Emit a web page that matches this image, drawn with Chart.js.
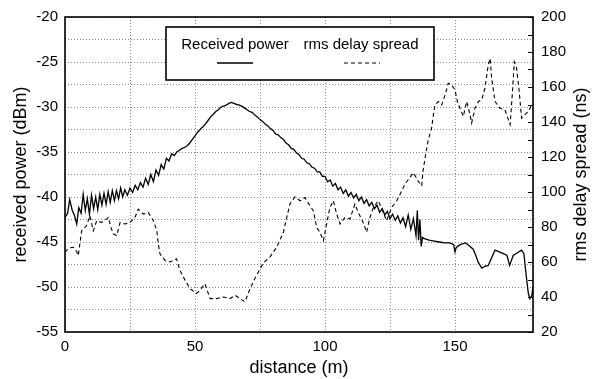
<!DOCTYPE html>
<html>
<head>
<meta charset="utf-8">
<script src="https://cdn.jsdelivr.net/npm/chart.js@4"></script>
<style>
  html, body { margin: 0; padding: 0; background: #fff; }
  #wrap { width: 592px; height: 379px; }
</style>
</head>
<body>
<div id="wrap"><canvas id="chart" width="592" height="379"></canvas></div>
<script>
// received power (dBm) vs distance (m)
const powerDist = [0, 1, 1.8, 2.8, 3.6, 4.5, 5.3, 6.2, 7, 7.8, 8.6, 9.4, 10.2, 11, 11.8, 12.6, 13.4, 14.2, 15, 15.8,
  16.6, 17.4, 18.2, 19, 19.8, 20.6, 21.4, 22.2, 23, 24, 25, 26, 27, 28, 29, 30, 31, 32, 33, 34, 35, 36, 37, 38, 39,
  40, 41, 42, 43, 44, 45, 46, 47, 48, 49, 50, 51, 52, 53, 54, 55, 56, 57, 58, 59, 60, 61, 62, 63, 64, 65, 66, 67, 68,
  69, 70, 71, 72, 73, 74, 75, 76, 77, 78, 79, 80, 81, 82, 83, 84, 85, 86, 87, 88, 89, 90, 91, 92, 93, 94, 95, 96, 97,
  98, 99, 100, 101, 102, 103, 104, 105, 106, 107, 108, 109, 110, 111, 112, 113, 114, 115, 116, 117, 118, 119, 120,
  121, 122, 123, 124, 125, 126, 127, 128, 129, 130, 131, 132, 133, 134, 135, 135.5, 136, 136.5, 137, 137.5, 138, 140,
  142, 144, 146, 148, 149.5, 150, 150.5, 152, 154, 155, 157, 158, 159, 160.3, 161.5, 162.8, 164, 165.4, 167, 168.6,
  170, 171, 172.4, 174, 175.6, 176.5, 177.3, 178.2, 178.8, 179.5, 180];
const powerDbm = [-42.3, -41.8, -40.3, -41.5, -42.0, -43.0, -41.2, -41.8, -39.7, -41.5, -40.2, -41.9, -39.8, -41.3,
  -40.0, -41.4, -39.7, -40.9, -39.6, -40.8, -39.4, -40.6, -39.3, -40.4, -39.3, -40.2, -39.0, -40.0, -39.2, -39.8,
  -39.0, -39.5, -38.7, -39.2, -38.4, -38.9, -37.9, -38.6, -37.5, -38.3, -37.0, -37.6, -36.4, -36.9, -35.7, -36.0,
  -35.2, -35.4, -35.0, -34.8, -34.6, -34.5, -34.3, -34.0, -33.6, -33.2, -32.8, -32.5, -32.2, -31.9, -31.5, -31.1,
  -30.8, -30.5, -30.3, -30.0, -29.9, -29.8, -29.6, -29.5, -29.6, -29.7, -29.8, -29.9, -30.1, -30.3, -30.5, -30.6,
  -30.9, -31.1, -31.4, -31.6, -31.9, -32.1, -32.4, -32.6, -33.0, -33.1, -33.4, -33.6, -34.0, -34.2, -34.6, -34.7,
  -35.1, -35.3, -35.7, -35.8, -36.2, -36.3, -36.7, -36.8, -37.2, -37.2, -37.7, -37.7, -38.3, -38.1, -38.8, -38.5,
  -39.2, -38.9, -39.6, -39.2, -39.9, -39.5, -40.1, -39.7, -40.4, -40.0, -40.7, -40.3, -41.0, -40.6, -41.3, -40.9,
  -41.7, -41.3, -42.0, -41.6, -42.4, -41.9, -42.6, -42.1, -42.9, -42.3, -43.3, -42.0, -43.6, -42.4,
  -44.3, -41.5, -44.8, -42.5, -45.5, -44.5, -44.6, -44.8, -44.9, -45.0, -45.1, -45.1, -45.3, -46.1, -45.6, -45.3,
  -45.1, -45.3, -45.8, -46.5, -47.3, -47.9, -47.7, -47.6, -46.8, -45.9, -46.1, -46.3, -46.5, -47.6, -46.5, -46.2,
  -45.9, -46.3, -48.5, -50.7, -51.3, -51.0, -50.0];

// rms delay spread (ns) vs distance (m)
const delayDist = [0, 1.5, 3.2, 4.5, 5.1, 6.4, 8.3, 9.6, 10.9, 12.2, 14.1, 15.5, 16.7, 17.6, 18.6, 19.9, 21.2, 23.1,
  25, 26.9, 28.2, 30.1, 32, 34, 35.3, 35.9, 36.5, 38.5, 40.4, 42.9, 44.2, 46.2, 48.1, 50.6, 51.9, 53.8, 55.8, 58.3,
  60.9, 63.5, 65.4, 67.3, 69.2, 71.2, 73, 76.3, 78.8, 81.4, 84, 85.3, 86.5, 88.5, 90.4, 92.3, 94.2, 95.5, 96.8, 98,
  99.4, 100.6, 101.9, 103.2, 104.5, 105.8, 107.7, 109.6, 111.5, 112.8, 114.7, 116, 117.3, 118.6, 120.5, 122.4, 123.7,
  125.6, 127.6, 129.5, 130.8, 132.5, 134, 135.8, 137.2, 137.7, 138.5, 139.6, 141, 141.7, 142.3, 143.6, 144.9, 146.2,
  147.4, 148.7, 150, 150.9, 151.9, 153.2, 154.5, 155.8, 156.4, 157.7, 159, 160.3, 161.5, 162.8, 163.5, 164.1, 165.4,
  167.3, 169.2, 171.2, 172.2, 172.8, 173.7, 174.7, 175.6, 176.9, 178.2, 179.5];
const delayNs = [65.6, 68, 68.4, 66, 63.7, 77.9, 80.7, 86.4, 77.9, 83.6, 82.6, 84, 85.5, 80, 76, 75.1, 82.6, 81.7,
  82.6, 85.5, 90.2, 87.4, 88.3, 83.6, 77.9, 70.3, 64.7, 60.9, 60, 61.8, 55.2, 49.5, 44.8, 42, 43.8, 47.6, 39.1, 39.1,
  40, 39.1, 41, 39.1, 37.2, 44.8, 50.5, 59.5, 62.8, 68.4, 77, 85.5, 93.1, 97.2, 95, 96.8, 92.1, 89.3, 79.8, 77,
  72.2, 81.7, 91.1, 95, 87.4, 81.7, 85.5, 84.6, 93.1, 88.3, 82.6, 77, 85.5, 91.1, 95, 88.3, 83.6,
  91.1, 95, 100.6, 104.6, 108, 111, 106.3, 103.5, 112, 119.5, 129, 136.6, 144.2, 149.8, 151.7, 149.8, 155.5,
  162.1, 161.2, 158.4, 151.7, 147.9, 143.2, 151.7, 144.2, 139.4, 147.9, 151.7, 152.7, 159.3, 172.6, 176.3, 165, 151.7,
  147.9, 147, 138.5, 159.3, 174.4, 170.6, 157.4, 142.2, 144.2, 146, 149.8];

const FONT = "'Liberation Sans', Arial, Helvetica, sans-serif";

// frame, right-axis minor ticks, right title and legend box
const decor = {
  id: 'decor',
  afterDatasetsDraw(chart) {
    const { ctx, chartArea: a, scales } = chart;
    ctx.save();
    // inward ticks on right axis
    ctx.strokeStyle = '#000';
    ctx.lineWidth = 1;
    for (let v = 20; v <= 200; v += 10) {
      const y = Math.round(scales.y1.getPixelForValue(v)) + 0.5;
      ctx.beginPath();
      ctx.moveTo(a.right - 5, y);
      ctx.lineTo(a.right, y);
      ctx.stroke();
    }
    // plot frame
    ctx.lineWidth = 1.6;
    ctx.strokeRect(a.left, a.top, a.right - a.left, a.bottom - a.top);

    // legend box
    ctx.fillStyle = '#fff';
    ctx.fillRect(166, 27, 268, 53);
    ctx.lineWidth = 1.6;
    ctx.strokeRect(166, 27, 268, 53);
    ctx.fillStyle = '#000';
    ctx.font = '15px ' + FONT;
    ctx.textAlign = 'center';
    ctx.textBaseline = 'middle';
    const ds = chart.data.datasets;
    ctx.fillText(ds[0].label, 235, 45);
    ctx.fillText(ds[1].label, 361, 45);
    ctx.lineWidth = 1.4;
    ctx.beginPath();
    ctx.moveTo(217, 63); ctx.lineTo(253, 63);
    ctx.stroke();
    ctx.lineWidth = 1.2;
    ctx.setLineDash([4, 3]);
    ctx.beginPath();
    ctx.moveTo(344, 63); ctx.lineTo(380, 63);
    ctx.stroke();
    ctx.setLineDash([]);

    // right axis title, reading upwards
    ctx.font = '18px ' + FONT;
    ctx.translate(581, (a.top + a.bottom) / 2);
    ctx.rotate(-Math.PI / 2);
    ctx.fillText('rms delay spread (ns)', 0, 0);
    ctx.restore();
  }
};

const ctx = document.getElementById('chart').getContext('2d');
new Chart(ctx, {
  type: 'line',
  data: {
    datasets: [{
      label: 'Received power',
      data: powerDist.map((d, i) => ({ x: d, y: powerDbm[i] })),
      yAxisID: 'y',
      borderColor: '#000',
      borderWidth: 1.3,
      pointRadius: 0,
      tension: 0
    }, {
      label: 'rms delay spread',
      data: delayDist.map((d, i) => ({ x: d, y: delayNs[i] })),
      yAxisID: 'y1',
      borderColor: '#000',
      borderWidth: 1.1,
      borderDash: [4, 3],
      pointRadius: 0,
      tension: 0
    }]
  },
  options: {
    responsive: false,
    animation: false,
    layout: { padding: { top: 15 } },
    plugins: {
      legend: { display: false },
      tooltip: { enabled: false }
    },
    scales: {
      x: {
        type: 'linear',
        min: 0,
        max: 180,
        afterFit: s => { s.height = 47; },
        grid: { color: '#8a8a8a', lineWidth: 1, drawTicks: false },
        border: { display: false, dash: [1, 2] },
        ticks: {
          stepSize: 25,
          padding: 6,
          color: '#000',
          font: { family: FONT, size: 15 },
          maxRotation: 0,
          callback: v => (v % 50 === 0 ? String(v) : '')
        },
        title: {
          display: true,
          text: 'distance (m)',
          color: '#000',
          font: { family: FONT, size: 18 },
          padding: { top: 0, bottom: 0 }
        }
      },
      y: {
        position: 'left',
        min: -55,
        max: -20,
        afterFit: s => { s.width = 65; },
        grid: { color: '#8a8a8a', lineWidth: 1, drawTicks: false },
        border: { display: false, dash: [1, 2] },
        ticks: {
          stepSize: 2.5,
          padding: 7,
          color: '#000',
          font: { family: FONT, size: 15 },
          callback: v => (v % 5 === 0 ? String(v) : '')
        },
        title: {
          display: true,
          text: 'received power (dBm)',
          color: '#000',
          font: { family: FONT, size: 18 },
          padding: { top: 10, bottom: 0 }
        }
      },
      y1: {
        position: 'right',
        min: 20,
        max: 200,
        afterFit: s => { s.width = 59; },
        grid: { drawOnChartArea: false, drawTicks: false },
        border: { display: false },
        ticks: {
          stepSize: 20,
          padding: 8,
          color: '#000',
          font: { family: FONT, size: 15 }
        }
      }
    }
  },
  plugins: [decor]
});
</script>
</body>
</html>
